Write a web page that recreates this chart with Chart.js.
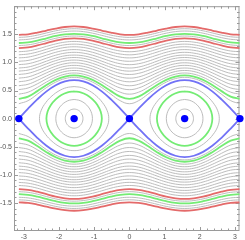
<!DOCTYPE html>
<html>
<head>
<meta charset="utf-8">
<script src="https://cdn.jsdelivr.net/npm/chart.js@4.4.1/dist/chart.umd.min.js"></script>
<style>
    html, body { margin: 0; padding: 0; background: #fff; }
</style>
</head>
<body>
<canvas id="grafico" width="245" height="240"></canvas>
<script>
// perfis de meio periodo (x = 0 .. pi/2, passo pi/12)
const redRotation = [
    [1.49, 1.50, 1.529, 1.567, 1.603, 1.630, 1.640],
    [1.255, 1.267, 1.301, 1.345, 1.388, 1.418, 1.429]
];
const greenRotation = [
    [1.345, 1.357, 1.388, 1.429, 1.470, 1.499, 1.509],
    [0.35, 0.392, 0.489, 0.597, 0.688, 0.748, 0.768]
];
const grayRotation = [
    [1.445, 1.456, 1.485, 1.524, 1.562, 1.589, 1.599],
    [1.40, 1.411, 1.441, 1.481, 1.520, 1.548, 1.558],
    [1.30, 1.312, 1.344, 1.387, 1.429, 1.458, 1.469],
    [1.19, 1.203, 1.238, 1.285, 1.329, 1.361, 1.373],
    [1.135, 1.149, 1.185, 1.234, 1.280, 1.313, 1.325],
    [1.08, 1.094, 1.133, 1.183, 1.232, 1.266, 1.278],
    [1.02, 1.035, 1.076, 1.129, 1.180, 1.215, 1.228],
    [0.96, 0.976, 1.019, 1.075, 1.128, 1.165, 1.179],
    [0.90, 0.917, 0.963, 1.022, 1.078, 1.117, 1.130],
    [0.845, 0.863, 0.912, 0.974, 1.032, 1.073, 1.087],
    [0.785, 0.805, 0.856, 0.922, 0.983, 1.026, 1.041],
    [0.72, 0.741, 0.797, 0.867, 0.932, 0.977, 0.993],
    [0.655, 0.679, 0.739, 0.814, 0.883, 0.930, 0.947],
    [0.585, 0.611, 0.678, 0.759, 0.833, 0.883, 0.900],
    [0.515, 0.545, 0.618, 0.707, 0.785, 0.838, 0.856],
    [0.435, 0.470, 0.553, 0.651, 0.735, 0.791, 0.811],
    [0.265, 0.319, 0.433, 0.552, 0.649, 0.712, 0.734]
];
const separatrix = [0, 0.177, 0.342, 0.484, 0.592, 0.661, 0.684];

// ovais em volta dos centros: um quarto (topo -> lado), u = distancia ao centro
const greenOvalU = [0, 0.185, 0.362, 0.525, 0.661, 0.754, 0.788];
const greenOvalP = [0.485, 0.468, 0.420, 0.343, 0.243, 0.126, 0];
const grayOvalU = [
    [0, 0.217, 0.430, 0.630, 0.806, 0.935, 0.985],
    [0, 0.129, 0.251, 0.359, 0.445, 0.501, 0.520],
    [0, 0.064, 0.125, 0.177, 0.217, 0.242, 0.251]
];
const grayOvalP = [
    [0.570, 0.551, 0.494, 0.403, 0.285, 0.148, 0],
    [0.340, 0.328, 0.294, 0.240, 0.170, 0.088, 0],
    [0.170, 0.164, 0.147, 0.120, 0.085, 0.044, 0]
];
const islandCenters = [-Math.PI / 2, Math.PI / 2];
const fixedPointsX = [-Math.PI, -Math.PI / 2, 0, Math.PI / 2, Math.PI];

const xTicks = [-3, -2, -1, 0, 1, 2, 3];
const yTicks = [-1.5, -1.0, -0.5, 0.0, 0.5, 1.0, 1.5];

const passo = Math.PI / 12;
const CINZA = '#b4b4b4';
const VERMELHO = '#e46a6a';
const VERDE = '#74ec74';
const AZUL = '#7272f6';

function curvaRotacao(perfil, sinal) {
    const pts = [];
    for (let k = 0; k <= 24; k++) {
        const j = k % 12;
        const i = j <= 6 ? j : 12 - j;
        pts.push({ x: -Math.PI + k * passo, y: sinal * perfil[i] });
    }
    return pts;
}

function arcoSeparatriz(x0, sinal) {
    const pts = [];
    for (let k = 0; k <= 12; k++) {
        const i = k <= 6 ? k : 12 - k;
        pts.push({ x: x0 + k * passo, y: sinal * separatrix[i] });
    }
    return pts;
}

function curvaOval(cx, us, ps) {
    const pts = [];
    const n = us.length;
    for (let i = 0; i < n; i++) pts.push({ x: cx + us[i], y: ps[i] });
    for (let i = n - 2; i >= 0; i--) pts.push({ x: cx + us[i], y: -ps[i] });
    for (let i = 1; i < n; i++) pts.push({ x: cx - us[i], y: -ps[i] });
    for (let i = n - 2; i >= 0; i--) pts.push({ x: cx - us[i], y: ps[i] });
    return pts;
}

function linha(data, cor, largura, ordem) {
    return {
        data: data,
        borderColor: cor,
        borderWidth: largura,
        showLine: true,
        pointRadius: 0,
        tension: 0.4,
        fill: false,
        order: ordem
    };
}

const datasets = [];

grayRotation.forEach(p => {
    datasets.push(linha(curvaRotacao(p, 1), CINZA, 0.9, 3));
    datasets.push(linha(curvaRotacao(p, -1), CINZA, 0.9, 3));
});
islandCenters.forEach(cx => {
    for (let i = 0; i < grayOvalU.length; i++) {
        datasets.push(linha(curvaOval(cx, grayOvalU[i], grayOvalP[i]), CINZA, 0.9, 3));
    }
    datasets.push(linha(curvaOval(cx, greenOvalU, greenOvalP), VERDE, 1.8, 2));
});
redRotation.forEach(p => {
    datasets.push(linha(curvaRotacao(p, 1), VERMELHO, 1.8, 2));
    datasets.push(linha(curvaRotacao(p, -1), VERMELHO, 1.8, 2));
});
greenRotation.forEach(p => {
    datasets.push(linha(curvaRotacao(p, 1), VERDE, 1.8, 2));
    datasets.push(linha(curvaRotacao(p, -1), VERDE, 1.8, 2));
});
[-Math.PI, 0].forEach(x0 => {
    datasets.push(linha(arcoSeparatriz(x0, 1), AZUL, 1.8, 1));
    datasets.push(linha(arcoSeparatriz(x0, -1), AZUL, 1.8, 1));
});
datasets.push({
    data: fixedPointsX.map(x => ({ x: x, y: 0 })),
    showLine: false,
    pointRadius: 3.7,
    pointBackgroundColor: '#0000ff',
    pointBorderWidth: 0,
    clip: false,
    order: 0
});

// moldura com marcas para dentro, nos quatro lados
const moldura = {
    id: 'moldura',
    beforeDatasetsDraw(chart) {
        const { ctx, chartArea: a, scales: { x, y } } = chart;
        ctx.save();
        ctx.strokeStyle = '#9a9a9a';
        ctx.lineWidth = 1;
        ctx.strokeRect(a.left + 0.5, a.top + 0.5, a.right - a.left - 1, a.bottom - a.top - 1);
        ctx.beginPath();
        for (let k = -20; k <= 20; k++) {
            const py = Math.round(y.getPixelForValue(k / 10)) + 0.5;
            if (py < a.top || py > a.bottom) continue;
            const len = k % 5 === 0 ? 4 : 2.5;
            ctx.moveTo(a.left, py); ctx.lineTo(a.left + len, py);
            ctx.moveTo(a.right, py); ctx.lineTo(a.right - len, py);
        }
        for (let k = -17; k <= 16; k++) {
            const px = Math.round(x.getPixelForValue(k / 5)) + 0.5;
            if (px < a.left || px > a.right) continue;
            const len = k % 5 === 0 ? 4 : 2.5;
            ctx.moveTo(px, a.bottom); ctx.lineTo(px, a.bottom - len);
            ctx.moveTo(px, a.top); ctx.lineTo(px, a.top + len);
        }
        ctx.stroke();
        ctx.restore();
    }
};

const fonteEixo = { size: 7, family: 'Liberation Sans' };

new Chart(document.getElementById('grafico').getContext('2d'), {
    type: 'scatter',
    data: { datasets: datasets },
    options: {
        responsive: false,
        animation: false,
        devicePixelRatio: 1,
        layout: { padding: { left: 0, right: 5.5, top: 0, bottom: 0 } },
        plugins: { legend: { display: false }, tooltip: { enabled: false } },
        events: [],
        scales: {
            x: {
                type: 'linear',
                min: -3.28,
                max: 3.13,
                afterBuildTicks: s => { s.ticks = xTicks.map(v => ({ value: v })); },
                afterFit: s => { s.height = 9; },
                grid: { display: false, drawTicks: false },
                border: { display: false },
                ticks: {
                    font: fonteEixo, color: '#555', padding: 2,
                    maxRotation: 0, autoSkip: false,
                    callback: v => String(v)
                }
            },
            y: {
                type: 'linear',
                min: -2,
                max: 2,
                afterBuildTicks: s => { s.ticks = yTicks.map(v => ({ value: v })); },
                afterFit: s => { s.width = 14; },
                grid: { display: false, drawTicks: false },
                border: { display: false },
                ticks: {
                    font: fonteEixo, color: '#555', padding: 2,
                    autoSkip: false,
                    callback: v => v.toFixed(1)
                }
            }
        }
    },
    plugins: [moldura]
});
</script>
</body>
</html>
